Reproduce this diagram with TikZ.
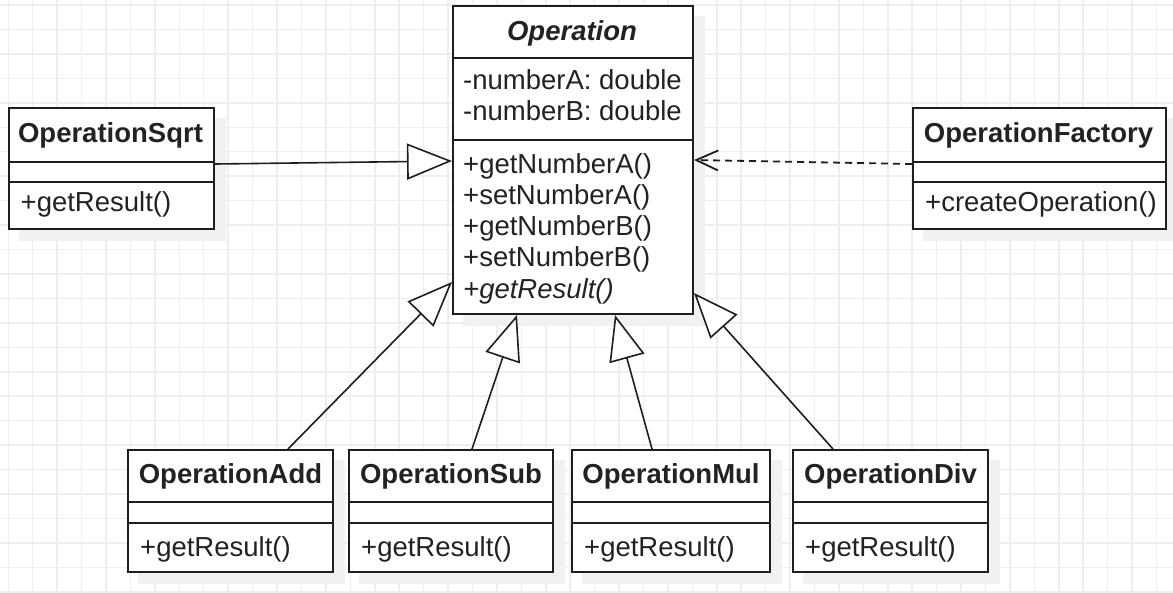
\documentclass[tikz,border=0pt]{standalone}
\usepackage{fontspec}
\setmainfont{Liberation Sans}
\usetikzlibrary{arrows.meta,calc}
\definecolor{gridc}{HTML}{EEEEEE}
\definecolor{shadowc}{HTML}{F1F1F1}
\definecolor{linec}{HTML}{1E1E1E}
\definecolor{textc}{HTML}{222222}
\pgfdeclarelayer{gridlayer}
\pgfdeclarelayer{shadowlayer}
\pgfsetlayers{gridlayer,shadowlayer,main}
\tikzset{
  classbox/.style={draw=linec, line width=2pt, fill=white, inner sep=0pt, anchor=north west},
  sepline/.style={draw=linec, line width=2pt},
  txt/.style={text=textc, inner sep=0pt, font=\fontsize{27.5}{32}\selectfont},
  ttl/.style={txt, anchor=base, font=\fontsize{27.5}{32}\selectfont\bfseries},
  mth/.style={txt, anchor=base west},
  inherit/.style={draw=linec, line width=1.6pt, -{Triangle[length=45pt,width=36pt,fill=white,line width=1.6pt]}},
  depend/.style={draw=linec, line width=1.8pt, dash pattern=on 7pt off 5pt, -{Straight Barb[length=22pt,width=20pt,line width=1.8pt]}},
}
\newcommand{\boxshadow}[1]{%
  \begin{pgfonlayer}{shadowlayer}
    \fill[shadowc] ($(#1.north west)+(11,11)$) rectangle ($(#1.south east)+(11,11)$);
  \end{pgfonlayer}}
\begin{document}
\begin{tikzpicture}[x=1pt,y=-1pt]
\useasboundingbox (0,0) rectangle (1173,592);
\begin{pgfonlayer}{gridlayer}
  \fill[white] (0,0) rectangle (1173,592);
  \foreach \i in {0,...,48} {\draw[gridc, line width=1.5pt] ({8.3+24.43*\i},0) -- ({8.3+24.43*\i},592);}
  \foreach \j in {0,...,24} {\draw[gridc, line width=1.5pt] (0,{5+24.45*\j}) -- (1173,{5+24.45*\j});}
\end{pgfonlayer}

% Operation
\node[classbox, minimum width=240, minimum height=308] (op) at (452,5) {};
\boxshadow{op}
\draw[sepline] ($(op.north west)+(0,53)$) -- ($(op.north east)+(0,53)$);
\draw[sepline] ($(op.north west)+(0,135)$) -- ($(op.north east)+(0,135)$);
\node[ttl, font=\fontsize{27.5}{32}\selectfont\bfseries\itshape] (opt) at (572,40) {Operation};
\node[mth] (opa1) at (463,89.3) {-numberA: double};
\node[mth] (opa2) at (463,120.7) {-numberB: double};
\node[mth] (opm1) at (463,173) {+getNumberA()};
\node[mth] (opm2) at (463,204.3) {+setNumberA()};
\node[mth] (opm3) at (463,235.6) {+getNumberB()};
\node[mth] (opm4) at (463,266.9) {+setNumberB()};
\node[mth, font=\fontsize{27.5}{32}\selectfont\itshape] (opm5) at (463,298.2) {+getResult()};

% OperationSqrt
\node[classbox, minimum width=205, minimum height=121] (sqrt) at (8,107) {};
\boxshadow{sqrt}
\draw[sepline] ($(sqrt.north west)+(0,55)$) -- ($(sqrt.north east)+(0,55)$);
\draw[sepline] ($(sqrt.north west)+(0,75)$) -- ($(sqrt.north east)+(0,75)$);
\node[ttl] (sqrtt) at (110.5,142.5) {OperationSqrt};
\node[mth] (sqrtm) at (20.5,211.7) {+getResult()};

% OperationFactory
\node[classbox, minimum width=253, minimum height=121] (fac) at (912,107) {};
\boxshadow{fac}
\draw[sepline] ($(fac.north west)+(0,55)$) -- ($(fac.north east)+(0,55)$);
\draw[sepline] ($(fac.north west)+(0,75)$) -- ($(fac.north east)+(0,75)$);
\node[ttl] (fact) at (1038.5,142.5) {OperationFactory};
\node[mth] (facm) at (925,211.7) {+createOperation()};

% bottom classes
\foreach \nm/\x/\w/\t in {add/127/205/OperationAdd, sub/348/204/OperationSub, mul/571/198/OperationMul, div/792/195/OperationDiv} {
  \node[classbox, minimum width=\w, minimum height=122] (\nm) at (\x,449) {};
  \boxshadow{\nm}
  \draw[sepline] ($(\nm.north west)+(0,53)$) -- ($(\nm.north east)+(0,53)$);
  \draw[sepline] ($(\nm.north west)+(0,74)$) -- ($(\nm.north east)+(0,74)$);
  \node[ttl] (\nm t) at ($(\nm.north)+(0,34.5)$) {\t};
  \node[mth] (\nm m) at ($(\nm.north west)+(13,107.7)$) {+getResult()};
}

% connectors
\draw[inherit] ($(sqrt.north east)+(0,57)$) -- ($(op.north west)+(0,156)$);
\draw[depend] ($(fac.north west)+(0,57)$) -- ($(op.north east)+(0,155)$);
\draw[inherit] ($(add.north west)+(161,0)$) -- ($(op.north west)+(0,277)$);
\draw[inherit] ($(sub.north west)+(124,0)$) -- ($(op.south west)+(65,0)$);
\draw[inherit] ($(mul.north west)+(81,0)$) -- ($(op.south west)+(163,0)$);
\draw[inherit] ($(div.north west)+(41,0)$) -- ($(op.north east)+(0,288)$);
\end{tikzpicture}
\end{document}
